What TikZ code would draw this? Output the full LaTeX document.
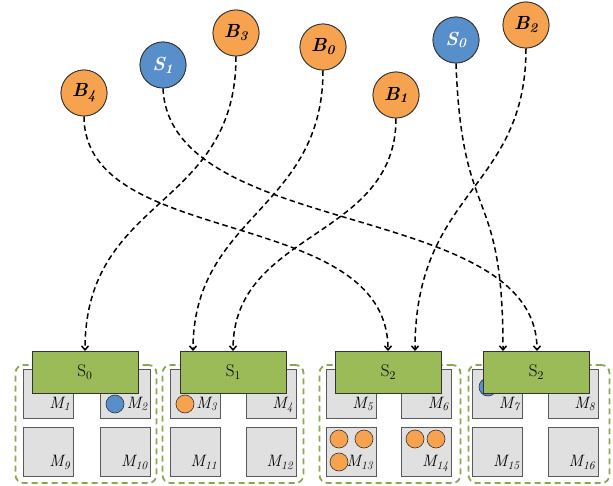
\documentclass[tikz,border=0pt]{standalone}
\usetikzlibrary{arrows.meta}
\definecolor{orC}{RGB}{247,162,78}
\definecolor{blC}{RGB}{88,142,202}
\definecolor{grB}{RGB}{155,187,89}
\definecolor{grD}{RGB}{138,168,78}
\begin{document}
\begin{tikzpicture}[x=1pt,y=-1pt,
  ball/.style={circle,draw=black!80,line width=0.8pt,minimum size=46pt,inner sep=0pt,font=\fontsize{19}{22}\selectfont\bfseries\itshape},
  bnode/.style={ball,fill=orC,text=black},
  snode/.style={ball,fill=blC,text=white},
  link/.style={draw=black,line width=1.5pt,dash pattern=on 5.5pt off 3.5pt,-{Straight Barb[length=4pt,width=7pt]}},
  grp/.style={draw=grD,line width=1.8pt,dash pattern=on 6pt off 4pt,rounded corners=8pt,minimum width=141pt,minimum height=118pt,inner sep=0pt},
  msq/.style={draw=black!65,fill=black!12,line width=0.8pt,minimum width=50pt,minimum height=49pt,inner sep=0pt},
  mlab/.style={font=\fontsize{16.5}{19}\selectfont\itshape,anchor=base east,inner sep=0pt},
  sbox/.style={draw=black!80,fill=grB,line width=0.8pt,minimum width=106pt,minimum height=42pt,inner sep=0pt,font=\fontsize{17}{20}\selectfont},
  tokO/.style={circle,draw=black!80,line width=0.6pt,minimum size=18pt,inner sep=0pt,fill=orC},
  tokB/.style={circle,draw=black!80,line width=0.6pt,minimum size=18pt,inner sep=0pt,fill=blC}
]
\useasboundingbox (0,0) rectangle (613,486);
% groups
\node[grp] (g1) at (86,424) {};
\node[grp] (g2) at (233,424) {};
\node[grp] (g3) at (390,424) {};
\node[grp] (g4) at (539,424) {};
% squares
\foreach \n/\x/\y in {1/48/393.5, 2/125.5/393.5, 9/48/452, 10/125.5/452,
                      3/195/393.5, 4/271/393.5, 11/195/452, 12/271/452,
                      5/351/393.5, 6/426.5/393.5, 13/351/452, 14/426.5/452,
                      7/497.5/393.5, 8/573/393.5, 15/497.5/452, 16/573/452}{
  \node[msq] (m\n) at (\x,\y) {};
}
% tokens
\node[tokB] (t2) at (115,404) {};
\node[tokO] (t3) at (185,404) {};
\node[tokB] (t7) at (488,387) {};
\node[tokO] (t13a) at (339,439) {};
\node[tokO] (t13b) at (364,439) {};
\node[tokO] (t13c) at (339,462) {};
\node[tokO] (t14a) at (415,439) {};
\node[tokO] (t14b) at (436,439) {};
% labels
\foreach \n in {1,...,16}{
  \node[mlab] (l\n) at ([shift={(-3pt,10pt)}]m\n.south east) {M\textsubscript{\n}};
}
% S boxes
\node[sbox] (s0) at (85,372) {S\textsubscript{0}};
\node[sbox] (s1) at (233.5,372) {S\textsubscript{1}};
\node[sbox] (s2) at (388.5,372) {S\textsubscript{2}};
\node[sbox] (s3) at (536.5,372) {S\textsubscript{2}};
% arrow ends
\coordinate (a0) at (85,351);
\coordinate (a1) at (193,351);
\coordinate (a2) at (233,351);
\coordinate (a3) at (388,351);
\coordinate (a4) at (415,351);
\coordinate (a5) at (503,351);
\coordinate (a6) at (537,351);
% top nodes
\node[bnode] (B4) at (84,93) {B\textsubscript{4}};
\node[snode] (S1) at (163,65) {S\textsubscript{1}};
\node[bnode] (B3) at (236,33) {B\textsubscript{3}};
\node[bnode] (B0) at (323,47) {B\textsubscript{0}};
\node[bnode] (B1) at (396,95) {B\textsubscript{1}};
\node[snode] (S0) at (456,40) {S\textsubscript{0}};
\node[bnode] (B2) at (526,25) {B\textsubscript{2}};
% links
\draw[link] (B3.south) .. controls (236,210) and (85,195) .. (a0);
\draw[link] (B0.south) .. controls (323,210) and (193,215) .. (a1);
\draw[link] (B1.south) .. controls (396,240) and (233,230) .. (a2);
\draw[link] (B4.south) .. controls (84,250) and (388,205) .. (a3);
\draw[link] (B2.south) .. controls (526,190) and (415,190) .. (a4);
\draw[link] (S0.south) .. controls (462,230) and (503,180) .. (a5);
\draw[link] (S1.south) .. controls (170,240) and (537,200) .. (a6);
% redraw top nodes over line starts
\foreach \st/\x/\y/\t in {bnode/84/93/4, bnode/236/33/3, bnode/323/47/0, bnode/396/95/1, bnode/526/25/2}{
  \node[\st] at (\x,\y) {B\textsubscript{\t}};
}
\node[snode] at (163,65) {S\textsubscript{1}};
\node[snode] at (456,40) {S\textsubscript{0}};
\end{tikzpicture}
\end{document}
